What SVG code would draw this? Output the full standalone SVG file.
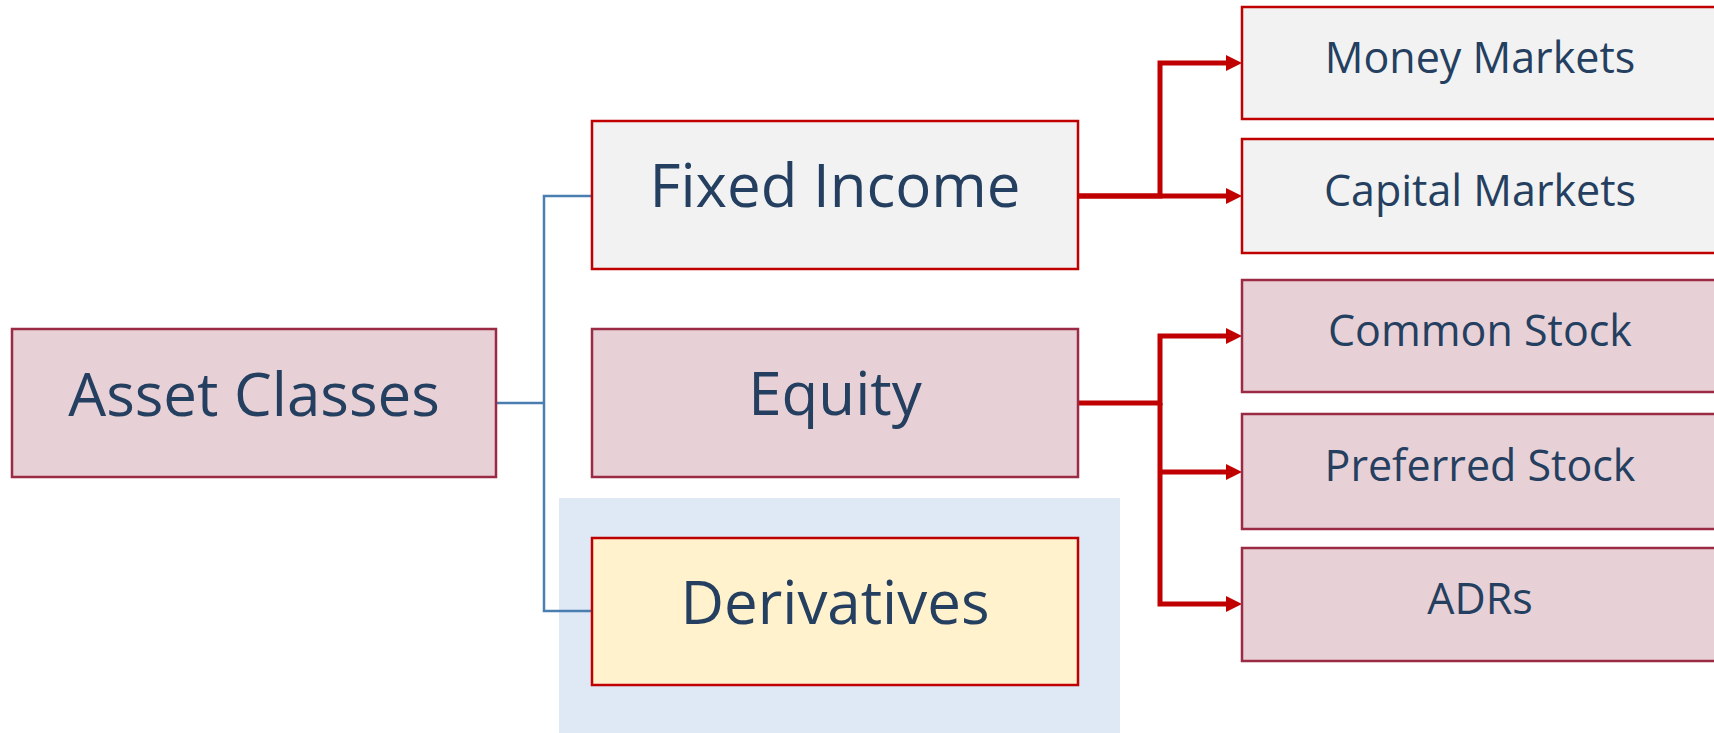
<svg xmlns="http://www.w3.org/2000/svg" width="1714" height="733" viewBox="0 0 1714 733">
<style>
.box{stroke-width:2.5}
.red{fill:#F2F2F2;stroke:#C00000}
.pink{fill:#E8D1D6;stroke:#9B2B45}
.yel{fill:#FFF2CC;stroke:#C00000}
text{font-family:"Open Sans","Noto Sans","Liberation Sans",sans-serif;fill:#243F60;text-anchor:middle}
.big{font-size:60px}
.sm{font-size:43px}
.bl{fill:none;stroke:#4A7EB1;stroke-width:2.5}
.rc{fill:none;stroke:#C00000;stroke-width:5;stroke-linejoin:miter}
</style>
<defs>
<marker id="ah" markerUnits="userSpaceOnUse" markerWidth="16" markerHeight="16" viewBox="0 0 16 16" refX="2" refY="8" orient="auto">
<path d="M0,0 L16,8 L0,16 z" fill="#C00000"/>
</marker>
</defs>
<rect x="559" y="498" width="561" height="240" fill="#DEE9F5"/>
<g id="connectors">
<path class="bl" d="M496,403 H544"/>
<path class="bl" d="M592,196 H544 V611 H592"/>
<path class="rc" d="M1078,196 H1160 V63 H1228" marker-end="url(#ah)"/>
<path class="rc" d="M1078,196 H1228" marker-end="url(#ah)"/>
<path class="rc" d="M1078,403 H1160 V336 H1228" marker-end="url(#ah)"/>
<path class="rc" d="M1160,403 V604 H1228" marker-end="url(#ah)"/>
<path class="rc" d="M1160,472 H1228" marker-end="url(#ah)"/>
</g>
<g id="asset-classes"><rect class="box pink" x="12" y="329" width="484" height="148"/><text class="big" x="254" y="416">Asset Classes</text></g>
<g id="fixed-income"><rect class="box red" x="592" y="121" width="486" height="148"/><text class="big" x="835" y="207">Fixed Income</text></g>
<g id="equity"><rect class="box pink" x="592" y="329" width="486" height="148"/><text class="big" x="835" y="415">Equity</text></g>
<g id="derivatives"><rect class="box yel" x="592" y="538" width="486" height="147"/><text class="big" x="835" y="624">Derivatives</text></g>
<g id="money-markets"><rect class="box red" x="1242" y="7" width="480" height="112"/><text class="sm" x="1480" y="73">Money Markets</text></g>
<g id="capital-markets"><rect class="box red" x="1242" y="139" width="480" height="114"/><text class="sm" x="1480" y="206">Capital Markets</text></g>
<g id="common-stock"><rect class="box pink" x="1242" y="280" width="480" height="112"/><text class="sm" x="1480" y="346">Common Stock</text></g>
<g id="preferred-stock"><rect class="box pink" x="1242" y="414" width="480" height="115"/><text class="sm" x="1480" y="481">Preferred Stock</text></g>
<g id="adrs"><rect class="box pink" x="1242" y="548" width="480" height="113"/><text class="sm" x="1480" y="614">ADRs</text></g>
</svg>
